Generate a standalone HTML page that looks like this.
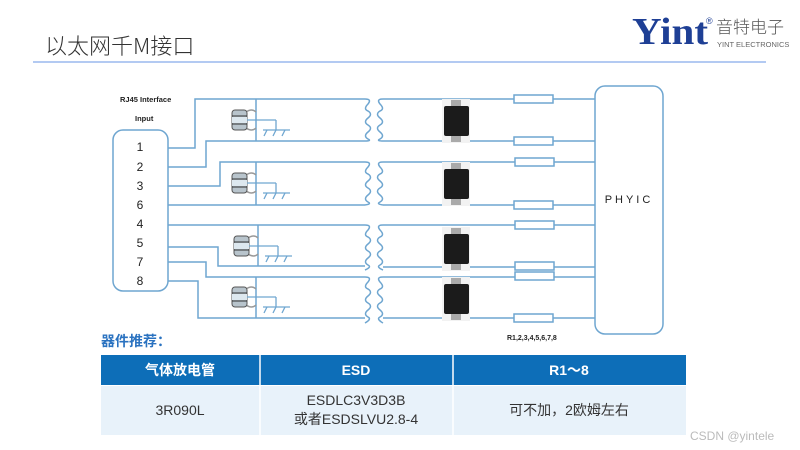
<!DOCTYPE html>
<html><head><meta charset="utf-8"><style>
body{margin:0;width:800px;height:450px;background:#fff;overflow:hidden;font-family:"Liberation Sans","Noto Sans CJK SC",sans-serif;}
</style></head><body>
<svg width="800" height="450" xmlns="http://www.w3.org/2000/svg" style="position:absolute;left:0;top:0">
<defs>
<g id="gdt">
<path d="M246,-8 q6,-4 10,0" stroke="#999" stroke-width="1.5" fill="none"/>
<path d="M246,8 q6,4 10,0" stroke="#999" stroke-width="1.5" fill="none"/>
<rect x="232" y="-10" width="15" height="20" rx="3" fill="#b8c4cc" stroke="#555" stroke-width="1"/>
<rect x="232" y="-3" width="15" height="6" fill="#dde8ef"/>
<line x1="232" y1="-4" x2="247" y2="-4" stroke="#333" stroke-width="1"/>
<line x1="232" y1="4" x2="247" y2="4" stroke="#333" stroke-width="1"/>
<line x1="247" y1="0" x2="276" y2="0" stroke="#6fa6d0" stroke-width="1.3"/>
<line x1="276" y1="0" x2="276" y2="10" stroke="#6fa6d0" stroke-width="1.3"/>
<line x1="263" y1="10" x2="290" y2="10" stroke="#6fa6d0" stroke-width="1.3"/>
<path d="M267,10 l-3,6 M276,10 l-3,6 M285,10 l-3,6" stroke="#6fa6d0" stroke-width="1.3"/>
</g>
<g id="esd">
<rect x="-14" y="-2" width="28" height="44" fill="#f2f2f2"/>
<rect x="-5" y="-1" width="10" height="8" fill="#aaa"/>
<rect x="-5" y="33" width="10" height="8" fill="#aaa"/>
<rect x="-12" y="5" width="25" height="30" rx="2" fill="#1b1b1b"/>
</g>
</defs>
<text x="45" y="54" font-family="'Noto Sans CJK SC',sans-serif" font-weight="300" font-size="22" fill="#333">以太网千M接口</text>
<line x1="33" y1="62" x2="766" y2="62" stroke="#9ab8ee" stroke-width="1.5"/>
<text x="632" y="44" font-family="'Liberation Serif',serif" font-weight="bold" font-size="38" fill="#1e3f95" textLength="76" lengthAdjust="spacingAndGlyphs">Yint</text>
<text x="706" y="24" font-size="9" fill="#1e3f95">®</text>
<text x="716" y="33" font-size="17" fill="#555" font-family="'Noto Sans CJK SC',sans-serif" font-weight="300">音特电子</text>
<text x="717" y="47" font-size="7.5" fill="#666">YINT ELECTRONICS</text>

<g stroke="#6fa6d0" stroke-width="1.5" fill="none">
<rect x="113" y="130" width="55" height="161" rx="10"/>
<rect x="595" y="86" width="68" height="248" rx="10"/>
<polyline points="168,148 195,148 195,99 365,99"/>
<polyline points="168,167 206,167 206,141 365,141"/>
<polyline points="168,186 220,186 220,162 365,162"/>
<polyline points="168,205 365,205"/>
<polyline points="168,225 365,225"/>
<polyline points="168,247 218,247 218,266 365,266"/>
<polyline points="168,262 206,262 206,277 365,277"/>
<polyline points="168,281 198,281 198,318 365,318"/>
<line x1="256" y1="99" x2="256" y2="141"/>
<line x1="256" y1="162" x2="256" y2="205"/>
<line x1="258" y1="225" x2="258" y2="266"/>
<line x1="256" y1="277" x2="256" y2="318"/>
<line x1="383" y1="99" x2="595" y2="99"/>
<line x1="383" y1="141" x2="595" y2="141"/>
<line x1="383" y1="162" x2="595" y2="162"/>
<line x1="383" y1="205" x2="595" y2="205"/>
<line x1="383" y1="225" x2="595" y2="225"/>
<line x1="383" y1="267" x2="595" y2="267"/>
<line x1="383" y1="277" x2="595" y2="277"/>
<line x1="383" y1="318" x2="595" y2="318"/>
<path d="M365,99 q7,0 3,5 q-5,5 0,7 q5,3 0,7 q-5,4 0,7 q5,3 0,7 q-5,4 0,7 q4,2 -3,2"/>
<path d="M383,99 q-7,0 -3,5 q5,5 0,7 q-5,3 0,7 q5,4 0,7 q-5,3 0,7 q5,4 0,7 q-4,2 3,2"/>
<path d="M365,162 q7,0 3,5 q-5,5 0,7 q5,3 0,7 q-5,4 0,7 q5,3 0,7 q-5,4 0,7 q4,2 -3,3"/>
<path d="M383,162 q-7,0 -3,5 q5,5 0,7 q-5,3 0,7 q5,4 0,7 q-5,3 0,7 q5,4 0,7 q-4,2 3,3"/>
<path d="M365,225 q7,0 3,5 q-5,5 0,7 q5,3 0,7 q-5,4 0,7 q5,3 0,7 q-5,4 0,7 q4,2 -3,5"/>
<path d="M383,225 q-7,0 -3,5 q5,5 0,7 q-5,3 0,7 q5,4 0,7 q-5,3 0,7 q5,4 0,7 q-4,2 3,5"/>
<path d="M365,277 q7,0 3,5 q-5,5 0,7 q5,3 0,7 q-5,4 0,7 q5,3 0,7 q-5,4 0,7 q4,2 -3,6"/>
<path d="M383,277 q-7,0 -3,5 q5,5 0,7 q-5,3 0,7 q5,4 0,7 q-5,3 0,7 q5,4 0,7 q-4,2 3,6"/>
</g>
<g fill="#fff" stroke="#6fa6d0" stroke-width="1.5">
<rect x="514" y="95" width="39" height="8"/>
<rect x="514" y="137" width="39" height="8"/>
<rect x="515" y="158" width="39" height="8"/>
<rect x="514" y="201" width="39" height="8"/>
<rect x="515" y="221" width="39" height="8"/>
<rect x="515" y="262" width="39" height="8"/>
<rect x="515" y="272" width="39" height="8"/>
<rect x="514" y="314" width="39" height="8"/>
</g>
<use href="#gdt" transform="translate(0,120)"/>
<use href="#gdt" transform="translate(0,183)"/>
<use href="#gdt" transform="translate(2,246)"/>
<use href="#gdt" transform="translate(0,297)"/>
<use href="#esd" transform="translate(456,101)"/>
<use href="#esd" transform="translate(456,164)"/>
<use href="#esd" transform="translate(456,229)"/>
<use href="#esd" transform="translate(456,279)"/>

<g font-size="7.5" font-weight="bold" fill="#222">
<text x="120" y="102">RJ45 Interface</text>
<text x="135" y="121">Input</text>
<text x="507" y="340" font-size="7">R1,2,3,4,5,6,7,8</text>
</g>
<g font-size="12" fill="#222" text-anchor="middle">
<text x="140" y="151">1</text><text x="140" y="171">2</text><text x="140" y="190">3</text><text x="140" y="209">6</text>
<text x="140" y="228">4</text><text x="140" y="247">5</text><text x="140" y="266">7</text><text x="140" y="285">8</text>
</g>
<text x="629" y="203" font-size="11" fill="#222" text-anchor="middle" letter-spacing="3">PHYIC</text>

<text x="101" y="346" font-size="14" font-weight="bold" fill="#2a72c0">器件推荐：</text>
<rect x="101" y="355" width="585" height="30" fill="#0d6eb8"/>
<rect x="101" y="386" width="585" height="49" fill="#e8f2fa"/>
<line x1="260" y1="355" x2="260" y2="435" stroke="#fff" stroke-width="1.5"/>
<line x1="453" y1="355" x2="453" y2="435" stroke="#fff" stroke-width="1.5"/>
<g font-size="14" font-weight="bold" fill="#fff" text-anchor="middle">
<text x="180" y="375">气体放电管</text><text x="356" y="375">ESD</text><text x="569" y="375">R1～8</text>
</g>
<g font-size="14" fill="#333" text-anchor="middle">
<text x="180" y="415">3R090L</text>
<text x="356" y="405">ESDLC3V3D3B</text>
<text x="356" y="424">或者ESDSLVU2.8-4</text>
<text x="569" y="415">可不加，2欧姆左右</text>
</g>
<text x="690" y="440" font-size="12" fill="#bbb">CSDN @yintele</text>
</svg>
</body></html>
